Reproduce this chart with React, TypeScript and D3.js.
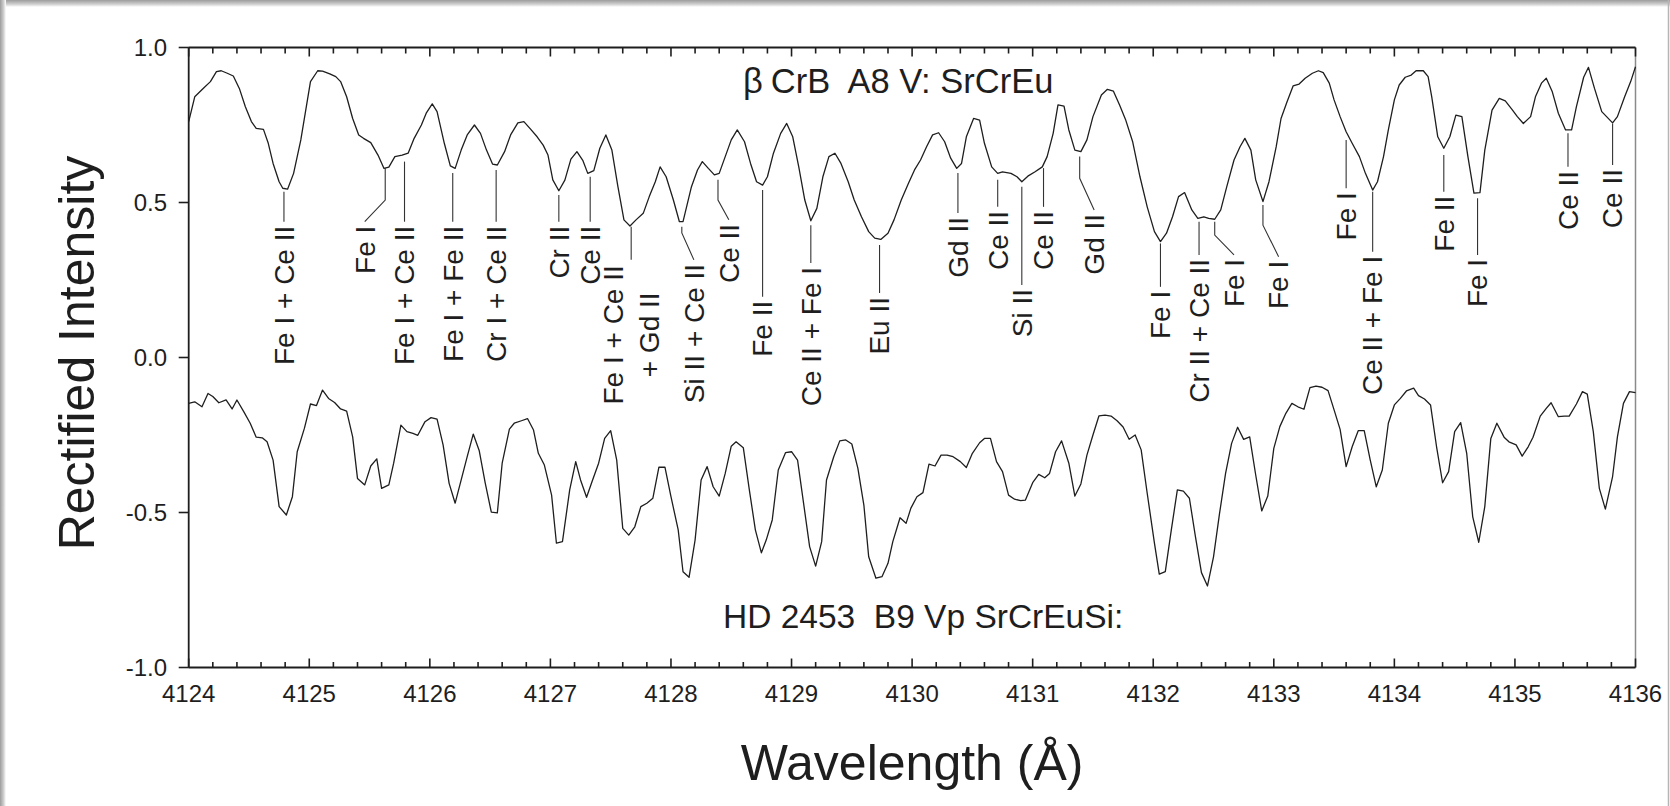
import React from 'react';
import * as d3 from 'd3';

// ---------- DATA ----------
const upperWl = [4124.00,4124.05,4124.12,4124.18,4124.23,4124.27,4124.32,4124.37,4124.42,4124.47,4124.52,4124.56,4124.62,4124.66,4124.70,4124.75,4124.78,4124.82,4124.87,4124.93,4125.01,4125.07,4125.11,4125.17,4125.22,4125.26,4125.31,4125.36,4125.41,4125.45,4125.51,4125.57,4125.62,4125.66,4125.71,4125.77,4125.82,4125.87,4125.93,4125.97,4126.02,4126.06,4126.12,4126.17,4126.21,4126.26,4126.31,4126.37,4126.42,4126.47,4126.52,4126.56,4126.62,4126.67,4126.73,4126.78,4126.83,4126.89,4126.94,4126.98,4127.02,4127.07,4127.12,4127.17,4127.22,4127.27,4127.31,4127.36,4127.41,4127.46,4127.51,4127.56,4127.61,4127.66,4127.71,4127.77,4127.82,4127.87,4127.91,4127.96,4128.02,4128.07,4128.10,4128.17,4128.22,4128.26,4128.31,4128.36,4128.40,4128.45,4128.50,4128.55,4128.61,4128.66,4128.71,4128.76,4128.80,4128.85,4128.91,4128.96,4129.01,4129.06,4129.11,4129.16,4129.21,4129.26,4129.31,4129.36,4129.41,4129.47,4129.52,4129.58,4129.64,4129.69,4129.74,4129.80,4129.85,4129.91,4129.97,4130.02,4130.07,4130.12,4130.17,4130.22,4130.27,4130.32,4130.37,4130.41,4130.45,4130.51,4130.56,4130.60,4130.66,4130.71,4130.75,4130.82,4130.87,4130.91,4130.96,4131.02,4131.08,4131.12,4131.17,4131.21,4131.26,4131.30,4131.35,4131.40,4131.45,4131.50,4131.57,4131.62,4131.67,4131.72,4131.77,4131.83,4131.89,4131.95,4132.01,4132.06,4132.11,4132.16,4132.21,4132.26,4132.32,4132.37,4132.42,4132.46,4132.51,4132.56,4132.61,4132.67,4132.72,4132.76,4132.81,4132.85,4132.91,4132.96,4133.02,4133.06,4133.11,4133.16,4133.21,4133.26,4133.32,4133.37,4133.41,4133.46,4133.50,4133.55,4133.60,4133.65,4133.71,4133.76,4133.82,4133.86,4133.91,4133.95,4134.00,4134.04,4134.09,4134.14,4134.18,4134.24,4134.28,4134.31,4134.36,4134.41,4134.46,4134.51,4134.56,4134.61,4134.66,4134.71,4134.75,4134.81,4134.87,4134.92,4134.98,4135.02,4135.07,4135.13,4135.17,4135.22,4135.26,4135.31,4135.36,4135.42,4135.47,4135.51,4135.57,4135.61,4135.66,4135.72,4135.76,4135.81,4135.85,4135.91,4135.96,4136.00];
const upperVal = [0.761,0.841,0.868,0.890,0.922,0.925,0.917,0.908,0.868,0.809,0.761,0.739,0.736,0.691,0.626,0.567,0.546,0.543,0.594,0.702,0.890,0.925,0.924,0.915,0.906,0.890,0.841,0.771,0.718,0.707,0.693,0.653,0.610,0.614,0.648,0.653,0.659,0.707,0.750,0.788,0.818,0.793,0.691,0.618,0.610,0.669,0.718,0.750,0.723,0.669,0.624,0.621,0.664,0.718,0.757,0.761,0.739,0.712,0.685,0.653,0.573,0.538,0.572,0.640,0.664,0.635,0.594,0.603,0.675,0.718,0.669,0.551,0.444,0.424,0.444,0.465,0.519,0.567,0.615,0.583,0.508,0.438,0.438,0.551,0.605,0.632,0.610,0.589,0.594,0.648,0.702,0.734,0.696,0.626,0.567,0.556,0.583,0.659,0.723,0.755,0.712,0.615,0.508,0.441,0.481,0.583,0.648,0.659,0.626,0.567,0.508,0.454,0.406,0.385,0.381,0.401,0.444,0.508,0.562,0.605,0.637,0.680,0.718,0.725,0.696,0.643,0.610,0.626,0.712,0.771,0.766,0.691,0.615,0.594,0.599,0.594,0.583,0.567,0.585,0.599,0.615,0.648,0.723,0.815,0.811,0.734,0.669,0.664,0.702,0.777,0.847,0.865,0.859,0.815,0.768,0.695,0.583,0.486,0.406,0.374,0.401,0.454,0.519,0.532,0.476,0.449,0.454,0.449,0.446,0.476,0.551,0.637,0.680,0.707,0.669,0.573,0.503,0.567,0.680,0.771,0.825,0.876,0.882,0.901,0.917,0.925,0.919,0.885,0.831,0.777,0.728,0.691,0.648,0.594,0.540,0.567,0.648,0.734,0.831,0.879,0.904,0.911,0.925,0.925,0.906,0.841,0.712,0.675,0.712,0.782,0.777,0.648,0.530,0.532,0.669,0.798,0.836,0.828,0.798,0.777,0.755,0.777,0.841,0.885,0.901,0.857,0.788,0.734,0.734,0.809,0.904,0.936,0.868,0.793,0.777,0.757,0.777,0.841,0.890,0.938];

const lowerWl = [4124.00,4124.05,4124.11,4124.16,4124.20,4124.25,4124.31,4124.36,4124.40,4124.46,4124.51,4124.56,4124.61,4124.65,4124.70,4124.75,4124.81,4124.86,4124.90,4124.96,4125.01,4125.06,4125.11,4125.16,4125.21,4125.26,4125.31,4125.36,4125.40,4125.46,4125.51,4125.56,4125.60,4125.66,4125.70,4125.76,4125.81,4125.86,4125.90,4125.96,4126.01,4126.06,4126.11,4126.16,4126.21,4126.26,4126.31,4126.36,4126.41,4126.46,4126.51,4126.56,4126.60,4126.66,4126.70,4126.76,4126.81,4126.86,4126.90,4126.95,4127.01,4127.05,4127.10,4127.16,4127.21,4127.25,4127.30,4127.35,4127.40,4127.45,4127.50,4127.55,4127.60,4127.65,4127.70,4127.75,4127.80,4127.85,4127.90,4127.95,4128.00,4128.06,4128.10,4128.15,4128.20,4128.25,4128.30,4128.35,4128.40,4128.45,4128.50,4128.54,4128.60,4128.65,4128.70,4128.75,4128.79,4128.84,4128.89,4128.95,4129.00,4129.05,4129.15,4129.20,4129.25,4129.29,4129.35,4129.40,4129.45,4129.50,4129.55,4129.60,4129.64,4129.70,4129.75,4129.80,4129.84,4129.90,4129.95,4129.99,4130.04,4130.09,4130.14,4130.19,4130.24,4130.29,4130.34,4130.40,4130.45,4130.50,4130.56,4130.60,4130.65,4130.70,4130.75,4130.80,4130.85,4130.90,4130.94,4131.00,4131.05,4131.10,4131.14,4131.19,4131.24,4131.30,4131.35,4131.40,4131.45,4131.50,4131.55,4131.60,4131.65,4131.70,4131.75,4131.80,4131.85,4131.90,4131.95,4132.01,4132.05,4132.10,4132.15,4132.20,4132.25,4132.30,4132.35,4132.40,4132.45,4132.50,4132.55,4132.60,4132.65,4132.70,4132.75,4132.80,4132.85,4132.90,4132.95,4133.00,4133.05,4133.10,4133.15,4133.20,4133.25,4133.30,4133.35,4133.40,4133.45,4133.50,4133.55,4133.60,4133.65,4133.70,4133.75,4133.80,4133.85,4133.90,4133.95,4134.00,4134.05,4134.10,4134.16,4134.20,4134.25,4134.30,4134.35,4134.40,4134.45,4134.50,4134.55,4134.60,4134.65,4134.70,4134.75,4134.80,4134.85,4134.91,4134.95,4135.01,4135.06,4135.11,4135.15,4135.21,4135.26,4135.30,4135.36,4135.41,4135.45,4135.51,4135.56,4135.60,4135.65,4135.70,4135.75,4135.81,4135.85,4135.90,4135.95,4136.00];
const lowerVal = [-0.148,-0.143,-0.159,-0.116,-0.126,-0.146,-0.137,-0.166,-0.137,-0.177,-0.212,-0.257,-0.259,-0.272,-0.331,-0.481,-0.508,-0.449,-0.304,-0.228,-0.150,-0.155,-0.105,-0.132,-0.145,-0.166,-0.173,-0.256,-0.390,-0.411,-0.350,-0.327,-0.422,-0.411,-0.341,-0.218,-0.239,-0.245,-0.251,-0.207,-0.194,-0.199,-0.282,-0.406,-0.470,-0.395,-0.320,-0.247,-0.301,-0.406,-0.499,-0.501,-0.341,-0.231,-0.212,-0.204,-0.197,-0.234,-0.309,-0.347,-0.444,-0.599,-0.594,-0.427,-0.336,-0.395,-0.451,-0.395,-0.341,-0.261,-0.236,-0.331,-0.551,-0.573,-0.546,-0.481,-0.470,-0.454,-0.354,-0.354,-0.449,-0.556,-0.691,-0.709,-0.589,-0.395,-0.352,-0.417,-0.447,-0.374,-0.286,-0.272,-0.291,-0.427,-0.556,-0.630,-0.589,-0.524,-0.363,-0.307,-0.304,-0.331,-0.610,-0.673,-0.594,-0.395,-0.320,-0.269,-0.266,-0.279,-0.357,-0.476,-0.643,-0.712,-0.707,-0.664,-0.594,-0.517,-0.535,-0.486,-0.449,-0.436,-0.344,-0.350,-0.315,-0.315,-0.320,-0.336,-0.355,-0.309,-0.275,-0.261,-0.261,-0.336,-0.368,-0.444,-0.457,-0.462,-0.460,-0.404,-0.377,-0.388,-0.374,-0.304,-0.269,-0.341,-0.447,-0.408,-0.315,-0.250,-0.188,-0.186,-0.189,-0.204,-0.224,-0.264,-0.250,-0.298,-0.438,-0.599,-0.699,-0.691,-0.556,-0.427,-0.431,-0.454,-0.578,-0.694,-0.737,-0.643,-0.503,-0.374,-0.277,-0.225,-0.264,-0.256,-0.379,-0.495,-0.447,-0.293,-0.223,-0.180,-0.148,-0.159,-0.167,-0.097,-0.092,-0.096,-0.107,-0.169,-0.232,-0.352,-0.288,-0.236,-0.236,-0.331,-0.417,-0.363,-0.212,-0.153,-0.132,-0.108,-0.099,-0.123,-0.134,-0.153,-0.288,-0.404,-0.368,-0.239,-0.210,-0.309,-0.514,-0.596,-0.481,-0.261,-0.212,-0.257,-0.272,-0.282,-0.318,-0.288,-0.257,-0.189,-0.164,-0.146,-0.191,-0.189,-0.189,-0.150,-0.110,-0.118,-0.239,-0.422,-0.489,-0.384,-0.256,-0.148,-0.110,-0.113];

const xTicks = [4124, 4125, 4126, 4127, 4128, 4129, 4130, 4131, 4132, 4133, 4134, 4135, 4136];
const yTicks = [-1.0, -0.5, 0.0, 0.5, 1.0];
const yTickLabels = ['-1.0', '-0.5', '0.0', '0.5', '1.0'];

const upperTitleA = 'β';
const upperTitleB = 'CrB  A8 V: SrCrEu';
const lowerTitle = 'HD 2453  B9 Vp SrCrEuSi:';
const xTitle = 'Wavelength (Å)';
const yTitle = 'Rectified Intensity';

// Line identifications (upper spectrum)
const labelNames = [
  ['Fe I + Ce II'], ['Fe I'], ['Fe I + Ce II'], ['Fe I + Fe II'], ['Cr I + Ce II'], ['Cr II'], ['Ce II'],
  ['Fe I + Ce II', '+ Gd II'], ['Si II + Ce II'], ['Ce II'], ['Fe II'], ['Ce II + Fe I'], ['Eu II'],
  ['Gd II'], ['Ce II'], ['Si II'], ['Ce II'], ['Gd II'], ['Fe I'], ['Cr II + Ce II'], ['Fe I'], ['Fe I'],
  ['Fe I'], ['Ce II + Fe I'], ['Fe II'], ['Fe I'], ['Ce II'], ['Ce II'],
];
const labelWl = [4124.79,4125.63,4125.79,4126.19,4126.55,4127.07,4127.33,4127.67,4128.09,4128.39,4128.76,4129.16,4129.73,4130.38,4130.71,4130.91,4131.09,4131.39,4132.06,4132.38,4132.51,4132.91,4133.60,4133.82,4134.41,4134.69,4135.44,4135.81];
const labelTextWl = [4124.79,4125.46,4125.79,4126.19,4126.55,4127.07,4127.33,4127.67,4128.19,4128.48,4128.76,4129.16,4129.73,4130.38,4130.71,4130.91,4131.09,4131.51,4132.06,4132.38,4132.67,4133.04,4133.60,4133.82,4134.41,4134.69,4135.44,4135.81];
const leaderTop = [0.535,0.611,0.632,0.595,0.605,0.524,0.583,0.422,0.422,0.573,0.540,0.427,0.363,0.595,0.573,0.551,0.611,0.648,0.368,0.438,0.438,0.492,0.702,0.535,0.653,0.514,0.723,0.755];
const leaderBend: (number | null)[] = [null,0.508,null,null,null,null,null,null,0.402,0.508,null,null,null,null,null,null,null,0.578,null,null,0.395,0.427,null,null,null,null,null,null];
const leaderEnd = [0.438,0.438,0.438,0.438,0.438,0.438,0.438,0.315,0.315,0.444,0.196,0.305,0.208,0.466,0.486,0.234,0.486,0.476,0.228,0.331,0.331,0.325,0.546,0.341,0.535,0.331,0.615,0.621];

// ---------- CHART ----------
const W = 1670;
const H = 806;
const FONT = "'Liberation Sans', Arial, Helvetica, sans-serif";
const INK = '#1e1e1e';

export default function App() {
  const x = d3.scaleLinear().domain([4124, 4136]).range([188.7, 1635.5]);
  const y = d3.scaleLinear().domain([-1, 1]).range([667.5, 47.5]);

  const line = d3.line<[number, number]>().x(d => x(d[0])).y(d => y(d[1]));
  const upperPts = upperWl.map((w, i) => [w, upperVal[i]] as [number, number]);
  const lowerPts = lowerWl.map((w, i) => [w, lowerVal[i]] as [number, number]);

  const minorTicks = x.ticks(60).filter(t => !xTicks.includes(t));
  const [x0, x1] = x.range();
  const [yb, yt] = y.range();

  return (
    <div style={{ position: 'fixed', left: 0, top: 0, width: W, height: H, background: '#fff' }}>
      <svg width={W} height={H} style={{ display: 'block' }}>
        <defs>
          <linearGradient id="shTop" x1="0" y1="0" x2="0" y2="1">
            <stop offset="0" stopColor="#9c9c9c" />
            <stop offset="0.6" stopColor="#cfcfcf" />
            <stop offset="1" stopColor="#ffffff" />
          </linearGradient>
          <linearGradient id="shLeft" x1="0" y1="0" x2="1" y2="0">
            <stop offset="0" stopColor="#9c9c9c" />
            <stop offset="0.6" stopColor="#cfcfcf" />
            <stop offset="1" stopColor="#ffffff" />
          </linearGradient>
        </defs>
        <rect x={0} y={0} width={W} height={H} fill="#fff" />
        <rect x={0} y={0} width={W} height={7} fill="url(#shTop)" />
        <rect x={0} y={0} width={6} height={H} fill="url(#shLeft)" />
        <line x1={W - 1.5} x2={W - 1.5} y1={0} y2={H} stroke="#b5b5b5" strokeWidth={1.5} />

        {/* frame */}
        <line x1={x1} x2={x1} y1={yt} y2={yb} stroke="#8a8a8a" strokeWidth={1.5} />
        <line x1={x0} x2={x1} y1={yt} y2={yt} stroke={INK} strokeWidth={1.8} />
        <line x1={x0} x2={x1} y1={yb} y2={yb} stroke={INK} strokeWidth={1.8} />
        <line x1={x0} x2={x0} y1={yt} y2={yb} stroke={INK} strokeWidth={1.8} />

        {/* x ticks (inward, top and bottom) */}
        {xTicks.map(t => (
          <g key={'M' + t}>
            <line x1={x(t)} x2={x(t)} y1={yb} y2={yb - 9} stroke={INK} strokeWidth={1.6} />
            <line x1={x(t)} x2={x(t)} y1={yt} y2={yt + 9} stroke={INK} strokeWidth={1.6} />
            <text x={x(t)} y={701.5} textAnchor="middle" fontFamily={FONT} fontSize={24} fill={INK}>{t}</text>
          </g>
        ))}
        {minorTicks.map(t => (
          <g key={'m' + t}>
            <line x1={x(t)} x2={x(t)} y1={yb} y2={yb - 5.5} stroke={INK} strokeWidth={1.6} />
            <line x1={x(t)} x2={x(t)} y1={yt} y2={yt + 6} stroke={INK} strokeWidth={1.6} />
          </g>
        ))}

        {/* y ticks (outward) */}
        {yTicks.map((t, i) => (
          <g key={'y' + t}>
            <line x1={x0 - 10} x2={x0} y1={y(t)} y2={y(t)} stroke={INK} strokeWidth={1.6} />
            <text x={167} y={y(t)} dy="0.36em" textAnchor="end" fontFamily={FONT} fontSize={24} fill={INK}>{yTickLabels[i]}</text>
          </g>
        ))}

        {/* spectra */}
        <path d={line(upperPts) || ''} fill="none" stroke={INK} strokeWidth={1.3} strokeLinejoin="round" />
        <path d={line(lowerPts) || ''} fill="none" stroke={INK} strokeWidth={1.3} strokeLinejoin="round" />

        {/* line identifications */}
        {labelNames.map((lines, i) => {
          const lx = x(labelWl[i]);
          const tx = x(labelTextWl[i]);
          const top = y(leaderTop[i]);
          const end = y(leaderEnd[i]);
          const bend = leaderBend[i];
          const d = bend === null
            ? `M${lx},${top}L${lx},${end}`
            : `M${lx},${top}L${lx},${y(bend)}L${tx},${end}`;
          const ty = end + 4;
          return (
            <g key={'lab' + i}>
              <path d={d} fill="none" stroke="#333" strokeWidth={1.1} />
              {lines.length === 1 ? (
                <text transform={`translate(${tx},${ty}) rotate(-90)`} dy="0.35em" textAnchor="end"
                  fontFamily={FONT} fontSize={28} fill={INK}>{lines[0]}</text>
              ) : (
                lines.map((s, j) => (
                  <text key={j} transform={`translate(${tx + (j - (lines.length - 1) / 2) * 35.5},${ty + 71}) rotate(-90)`}
                    dy="0.35em" textAnchor="middle" fontFamily={FONT} fontSize={28} fill={INK}>{s}</text>
                ))
              )}
            </g>
          );
        })}

        {/* spectrum titles */}
        <text x={743} y={93} fontFamily={FONT} fontSize={34.5} fill={INK} style={{ whiteSpace: 'pre' }}>
          {upperTitleA}<tspan dx={8}>{upperTitleB}</tspan>
        </text>
        <text x={723} y={628} fontFamily={FONT} fontSize={33.5} fill={INK} style={{ whiteSpace: 'pre' }}>{lowerTitle}</text>

        {/* axis titles */}
        <text x={(x0 + x1) / 2} y={780} textAnchor="middle" fontFamily={FONT} fontSize={50} fill={INK}>{xTitle}</text>
        <text transform={`translate(94,353) rotate(-90)`} textAnchor="middle" fontFamily={FONT} fontSize={50} fill={INK}>{yTitle}</text>
      </svg>
    </div>
  );
}
